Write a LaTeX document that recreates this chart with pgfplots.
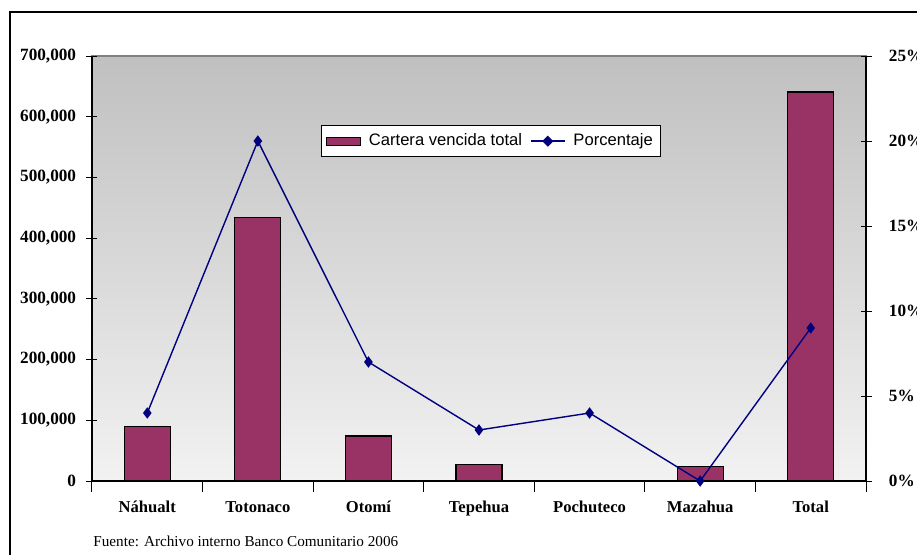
\documentclass[border=0pt]{standalone}
\usepackage{fontspec}
\setmainfont{Liberation Serif}
\newfontfamily\arial{Liberation Sans}
\usepackage{pgfplots}
\pgfplotsset{compat=1.18}

\definecolor{barc}{RGB}{153,51,102}
\definecolor{linec}{RGB}{0,0,128}
\definecolor{bgtop}{RGB}{192,192,192}
\definecolor{bgbot}{RGB}{242,242,242}

\begin{document}
\begin{tikzpicture}
\path[use as bounding box] (0,0) rectangle (458.5pt,277pt);
% outer chart frame
\draw[black, line width=0.6pt] (5pt,-5pt) -- (5pt,271pt) -- (470pt,271pt);

\pgfplotsset{
  common/.style={
    scale only axis, width=387pt, height=212.5pt,
    at={(46pt,36.5pt)}, anchor=south west,
    xmin=-0.5, xmax=6.5,
    scaled y ticks=false,
    tick align=center, major tick length=5.5pt,
    tick style={black, line width=0.5pt},
    axis line style={black, line width=0.6pt},
  }
}

\begin{axis}[common,
  axis background/.style={top color=bgtop, bottom color=bgbot, draw=gray, line width=0.6pt},
  axis x line*=bottom, axis y line*=left,
  ymin=0, ymax=700000,
  ytick={0,100000,...,700000},
  yticklabels={0,{100,000},{200,000},{300,000},{400,000},{500,000},{600,000},{700,000}},
  yticklabel style={font=\bfseries\fontsize{8.6}{10}\selectfont, anchor=east, inner sep=0pt, xshift=-5pt},
  xtick={-0.5,0.5,...,6.5},
  x tick label as interval,
  xticklabels={Náhualt,Totonaco,Otomí,Tepehua,Pochuteco,Mazahua,Total},
  xticklabel style={font=\bfseries\fontsize{8.3}{10}\selectfont, inner sep=0pt, yshift=-4.5pt},
  ybar, bar width=23pt,
]
\addplot[fill=barc, draw=black, line width=0.6pt] coordinates {
  (0,90000) (1,434000) (2,74000) (3,27500) (4,0) (5,24200) (6,640700)
};
\end{axis}

\begin{axis}[common,
  axis x line=none, axis y line*=right,
  ymin=0, ymax=25,
  ytick={0,5,...,25},
  yticklabels={0\%,5\%,10\%,15\%,20\%,25\%},
  yticklabel style={font=\bfseries\fontsize{8.6}{10}\selectfont, anchor=west, inner sep=0pt, xshift=8.5pt},
  legend columns=2,
  legend style={at={(0.296,0.8376)}, anchor=north west, draw=black, fill=white,
    line width=0.6pt,
    font=\arial\fontsize{8.3}{10}\selectfont,
    inner sep=2pt, column sep=2pt,
    /tikz/every even column/.append style={column sep=2pt}},
]
\addlegendimage{legend image code/.code={
  \draw[fill=barc, draw=black, line width=0.6pt] (0pt,-2pt) rectangle (17pt,2pt);}}
\addlegendentry{Cartera vencida total}
\addplot[color=linec, line width=0.7pt, mark=diamond*, mark size=2.3pt,
  mark options={fill=linec, draw=linec},
  legend image code/.code={
    \draw[color=linec, line width=0.7pt] (0pt,0pt) -- (17pt,0pt);
    \fill[linec] (8.5pt,0pt) +(0,2.3pt) -- +(2.3pt,0) -- +(0,-2.3pt) -- +(-2.3pt,0) -- cycle;}]
  coordinates {
  (0,4) (1,20) (2,7) (3,3) (4,4) (5,0) (6,9)
};
\addlegendentry{Porcentaje}
\end{axis}

\node[anchor=west, inner sep=0pt, font=\fontsize{7.6}{9}\selectfont] at (46.5pt,6.5pt)
  {Fuente: Archivo interno Banco Comunitario 2006};
\end{tikzpicture}
\end{document}
